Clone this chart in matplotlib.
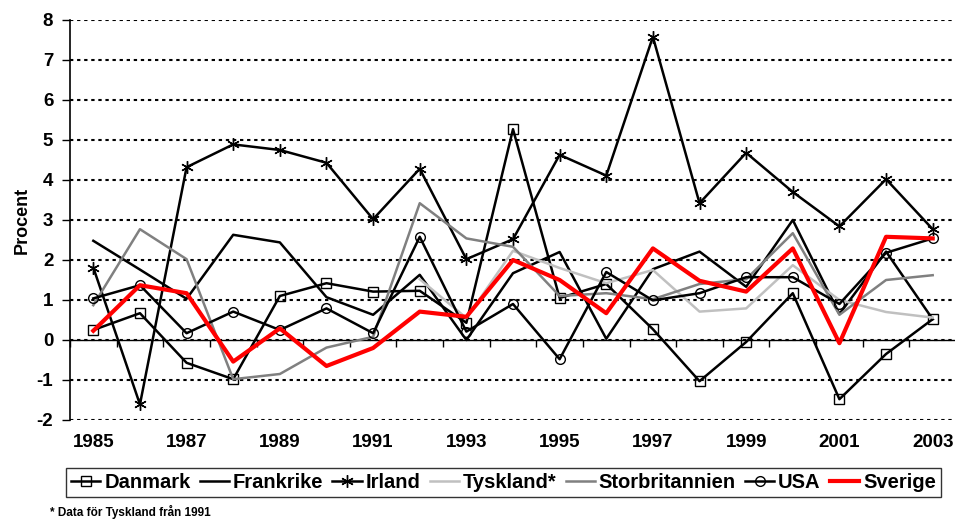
import numpy as np
import matplotlib
matplotlib.use("Agg")
import matplotlib.pyplot as plt

plt.rcParams['font.family'] = ['Liberation Sans', 'DejaVu Sans']
plt.rcParams['font.weight'] = 'bold'
plt.rcParams['axes.unicode_minus'] = False

years = list(range(1985, 2004))
nan = np.nan

danmark = [0.25, 0.67, -0.57, -0.98, 1.10, 1.42, 1.21, 1.23, 0.43, 5.27,
           1.05, 1.40, 0.27, -1.03, -0.05, 1.17, -1.48, -0.35, 0.52]
frankrike = [2.48, 1.76, 1.03, 2.63, 2.44, 1.07, 0.63, 1.63, 0.00, 1.67,
             2.20, 0.03, 1.77, 2.21, 1.33, 3.00, 0.65, 2.21, 0.52]
irland = [1.81, -1.61, 4.32, 4.89, 4.75, 4.43, 3.02, 4.28, 2.02, 2.52,
          4.63, 4.11, 7.58, 3.42, 4.68, 3.70, 2.84, 4.02, 2.77]
tyskland = [nan, nan, nan, nan, nan, nan, nan, 1.52, 0.55, 2.23,
            1.80, 1.42, 1.75, 0.71, 0.79, 1.87, 1.00, 0.70, 0.56]
storbritannien = [0.87, 2.77, 2.02, -0.98, -0.85, -0.19, 0.08, 3.42, 2.54, 2.33,
                  1.10, 1.17, 1.02, 1.40, 1.52, 2.67, 0.63, 1.50, 1.62]
usa = [1.04, 1.37, 0.17, 0.71, 0.25, 0.79, 0.17, 2.58, 0.21, 0.90,
       -0.48, 1.70, 0.99, 1.17, 1.57, 1.57, 0.90, 2.18, 2.54]
sverige = [0.23, 1.37, 1.17, -0.54, 0.29, -0.65, -0.20, 0.71, 0.58, 2.00,
           1.50, 0.67, 2.29, 1.48, 1.21, 2.29, -0.08, 2.58, 2.54]

fig = plt.figure(figsize=(9.55, 5.2), dpi=100)
ax = fig.add_axes([70 / 955, 100 / 520, 886 / 955, 400 / 520])

lw = 1.8
ax.plot(years, danmark, color='black', lw=lw, marker='s', ms=7,
        mfc='none', mec='black', mew=1, label='Danmark')
ax.plot(years, frankrike, color='black', lw=lw, label='Frankrike')
ax.plot(years, irland, color='black', lw=lw, marker=(6, 2, 0), ms=9,
        mec='black', mew=1, label='Irland')
ax.plot(years, tyskland, color='#c0c0c0', lw=lw, label='Tyskland*')
ax.plot(years, storbritannien, color='#808080', lw=lw, label='Storbritannien')
ax.plot(years, usa, color='black', lw=lw, marker='o', ms=7,
        mfc='none', mec='black', mew=1, label='USA')
ax.plot(years, sverige, color='#ff0000', lw=3, label='Sverige')

ax.set_xlim(1984.5, 2003.5)
ax.set_ylim(-2, 8)
ax.set_yticks(range(-2, 9))
ax.tick_params(axis='y', direction='out', length=6, width=1, labelsize=13.5, pad=6)
ax.yaxis.grid(True, color='black', linestyle=(0, (1.6, 1.8)), lw=1.5)
ax.set_axisbelow(True)

for s in ['top', 'right']:
    ax.spines[s].set_visible(False)
ax.spines['left'].set_linewidth(1.2)
ax.spines['bottom'].set_position(('data', 0))
ax.spines['bottom'].set_linewidth(1)
ax.spines['bottom'].set_zorder(1.5)

# category boundaries as ticks on the zero line
ax.set_xticks([])
ax.set_xticks(np.arange(1984.5, 2004, 1), minor=True)
ax.tick_params(axis='x', which='minor', direction='out', length=5, width=1,
               labelbottom=False)

sec = ax.secondary_xaxis(0)
sec.set_xticks(years[::2])
sec.set_xticklabels([str(y) for y in years[::2]])
sec.tick_params(length=0, labelsize=13.5, pad=10)
sec.spines['bottom'].set_visible(False)

ax.set_ylabel('Procent', fontsize=13, fontweight='bold', labelpad=4)

leg = fig.legend(loc='center', bbox_to_anchor=(503.5 / 955, 37.5 / 520), ncol=7,
                 fontsize=14.5, frameon=True, fancybox=False, edgecolor='black',
                 handlelength=1.45, handletextpad=0.2, columnspacing=0.45,
                 borderpad=0.25, borderaxespad=0)
leg.get_frame().set_linewidth(1)

fig.text(50 / 955, 1 / 520, '* Data för Tyskland från 1991', fontsize=8.5,
         fontweight='bold', ha='left', va='bottom')

fig.savefig('out.png', dpi=100)
